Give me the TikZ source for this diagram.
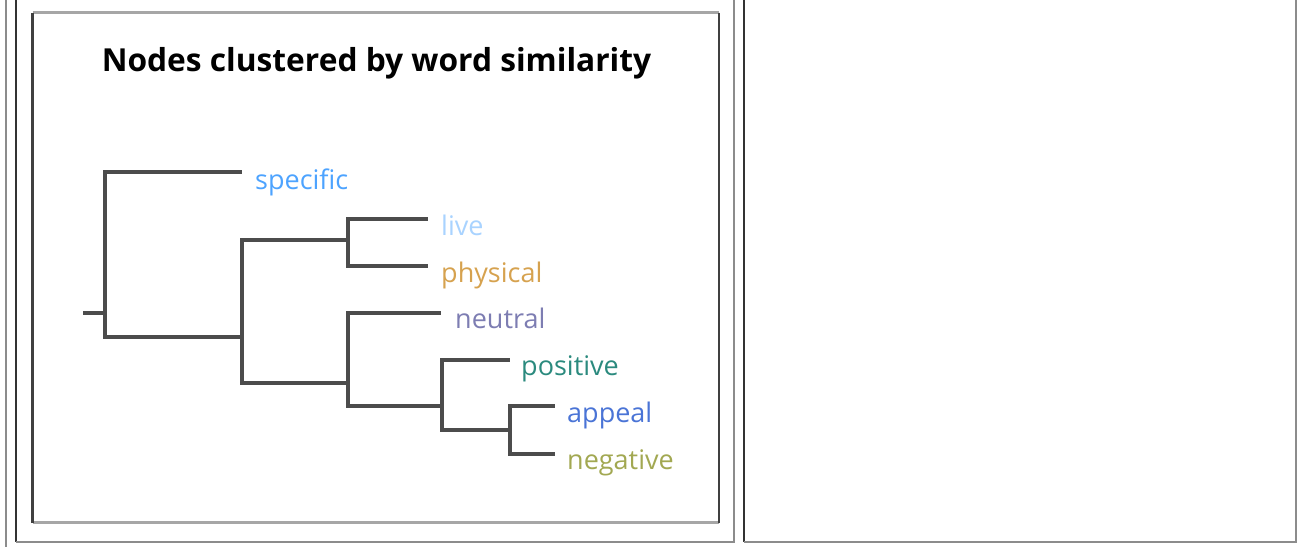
\documentclass[tikz,border=0pt]{standalone}
\usepackage{fontspec}
\setmainfont{Open Sans}
\definecolor{cspecific}{HTML}{4DA3FF}
\definecolor{clive}{HTML}{A9D3FF}
\definecolor{cphysical}{HTML}{D6A24F}
\definecolor{cneutral}{HTML}{7D7DB2}
\definecolor{cpositive}{HTML}{2B8A7E}
\definecolor{cappeal}{HTML}{4A74D6}
\definecolor{cnegative}{HTML}{A2A852}
\definecolor{branchgray}{HTML}{4C4C4C}

\begin{document}
\begin{tikzpicture}[x=1pt, y=-1pt,
    branch/.style={draw=branchgray, line width=3.2pt},
    leaf/.style={anchor=base west, inner sep=0pt, font=\fontsize{27}{32}\selectfont},
    litecell/.style={draw=gray!90, line width=2pt},
    darkcell/.style={draw=black!80, line width=2pt}]
                \useasboundingbox (0,0) rectangle (1298,547);
                % table cells
                \draw[litecell] (5.5,0) -- (5.5,547);
                \draw[darkcell] (15.5,0) -- (15.5,541.5);
                \draw[litecell] (15.5,541.5) -- (733.5,541.5) -- (733.5,0);
                \draw[darkcell] (743.5,0) -- (743.5,541.5);
                \draw[litecell] (743.5,541.5) -- (1295.5,541.5) -- (1295.5,0);
                % picture frame
                \draw[draw=gray!70, line width=2.4pt] (32.5,12.5) -- (719,12.5) (32.5,522.5) -- (719,522.5);
                \draw[draw=black!75, line width=2.4pt] (32.5,12.5) -- (32.5,522.5) (719,12.5) -- (719,522.5);

                \node[anchor=base, inner sep=0pt, font=\fontsize{31.7}{36}\selectfont\bfseries] (title) at (376.5,71) {Nodes clustered by word similarity};

                \coordinate (root) at (83,313);
                \coordinate (j0) at (105,313);
                \coordinate (j1) at (242,337);
                \coordinate (j2) at (348,240);
                \coordinate (j3) at (348,383);
                \coordinate (j4) at (442,406);
                \coordinate (j5) at (510,430);
                \coordinate (e-specific) at (242,172);
                \coordinate (e-live) at (428,219);
                \coordinate (e-physical) at (428,266);
                \coordinate (e-neutral) at (441,313);
                \coordinate (e-positive) at (510,360);
                \coordinate (e-appeal) at (555,406);
                \coordinate (e-negative) at (555,454);

                \node[leaf, text=cspecific] (specific) at (255,189) {specific};
                \node[leaf, text=clive] (live) at (441,235) {live};
                \node[leaf, text=cphysical] (physical) at (441,282) {physical};
                \node[leaf, text=cneutral] (neutral) at (455,328) {neutral};
                \node[leaf, text=cpositive] (positive) at (521,375) {positive};
                \node[leaf, text=cappeal] (appeal) at (567,422) {appeal};
                \node[leaf, text=cnegative] (negative) at (567,469) {negative};

                \draw[branch]
                    (root) -- (j0)
                    (j0) |- (e-specific)
                    (j0) |- (j1)
                    (j1) |- (j2)
                    (j1) |- (j3)
                    (j2) |- (e-live)
                    (j2) |- (e-physical)
                    (j3) |- (e-neutral)
                    (j3) |- (j4)
                    (j4) |- (e-positive)
                    (j4) |- (j5)
                    (j5) |- (e-appeal)
                    (j5) |- (e-negative)
                    ;
            \end{tikzpicture}
\end{document}
